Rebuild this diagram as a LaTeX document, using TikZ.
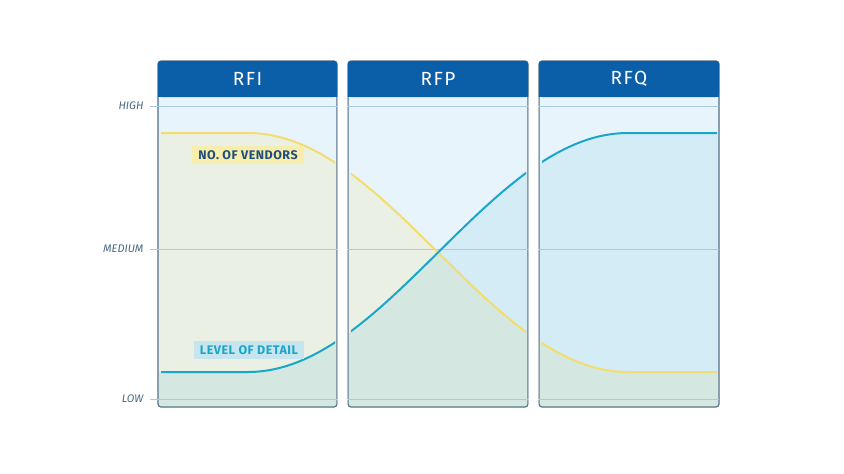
\documentclass[tikz,border=0pt]{standalone}
\usepackage{fontspec}
\setmainfont{Fira Sans}
\definecolor{headblue}{HTML}{0B5EA8}
\definecolor{panelfill}{HTML}{E8F4FB}
\definecolor{panelline}{HTML}{4F6E86}
\definecolor{gridline}{HTML}{A9CBE0}
\definecolor{vendyellow}{HTML}{F5DC6E}
\definecolor{vendbox}{HTML}{F7EDAE}
\definecolor{vendtext}{HTML}{1E4E7E}
\definecolor{detcyan}{HTML}{1BA6C9}
\definecolor{detbox}{HTML}{C6E5EE}
\definecolor{leveltext}{HTML}{4A6A84}
\tikzset{
  panel/.style={draw=panelline,line width=1.2pt,fill=panelfill,rounded corners=3pt},
  header/.style={fill=headblue,text=white,font=\fontsize{19}{21}\selectfont\addfontfeature{LetterSpace=8},inner sep=0pt},
  level/.style={text=leveltext,font=\itshape\fontsize{11}{13}\selectfont,anchor=east},
  tag/.style={font=\bfseries\fontsize{12.5}{14}\selectfont\addfontfeature{LetterSpace=4},inner xsep=6pt,inner ysep=4pt}
}
\newcommand{\sdet}[1]{372-239*(1-cos(180*max(0,min(1,(#1-248)/380))))/2}
\newcommand{\sven}[1]{133+239*(1-cos(180*max(0,min(1,(#1-248)/380))))/2}
\begin{document}
\begin{tikzpicture}[x=1pt,y=-1pt]
        \useasboundingbox (0,0) rectangle (844,474);
        \fill[white] (0,0) rectangle (844,474);
        % panels
        \foreach \name/\xa/\xb in {RFI/158/337,RFP/348/528,RFQ/539/719} {
          \draw[panel] (\xa,61) rectangle (\xb,407);
          \fill[headblue,rounded corners=3pt] (\xa,61) rectangle (\xb,97);
          \fill[headblue] (\xa,85) rectangle (\xb,97);
          \node[header] (h\name) at ({(\xa+\xb)/2},79) {\name};
        }
        % fills under the curves
        \begin{scope}
          \clip (158.6,97) rectangle (336.4,406.4) (348.6,97) rectangle (527.4,406.4) (539.6,97) rectangle (718.4,406.4);
          \fill[vendyellow,opacity=0.16] plot[domain=158:720,samples=120] (\x,{\sven{\x}}) -- (720,407) -- (158,407) -- cycle;
          \fill[detcyan,opacity=0.10] plot[domain=158:720,samples=120] (\x,{\sdet{\x}}) -- (720,407) -- (158,407) -- cycle;
        \end{scope}
        % level lines
        \foreach \lab/\y in {HIGH/106,MEDIUM/249,LOW/399} {
          \draw[gridline,line width=0.7pt] (150,\y) -- (719,\y);
          \node[level] (l\lab) at (147,\y) {\lab};
        }
        \fill[white] (337.6,97) rectangle (347.4,407) (528.6,97) rectangle (538.4,407);
        % curves
        \begin{scope}
          \clip (161,97) rectangle (335,405) (351,97) rectangle (526,405) (542,97) rectangle (717,405);
          \draw[vendyellow,line width=2pt] plot[domain=160:718,samples=140] (\x,{\sven{\x}});
          \draw[detcyan,line width=2pt] plot[domain=160:718,samples=140] (\x,{\sdet{\x}});
        \end{scope}
        % tags
        \node[tag,fill=vendbox,text=vendtext] (vendors) at (248,155) {NO. OF VENDORS};
        \node[tag,fill=detbox,text=detcyan] (detail) at (249,350) {LEVEL OF DETAIL};
\end{tikzpicture}
\end{document}
